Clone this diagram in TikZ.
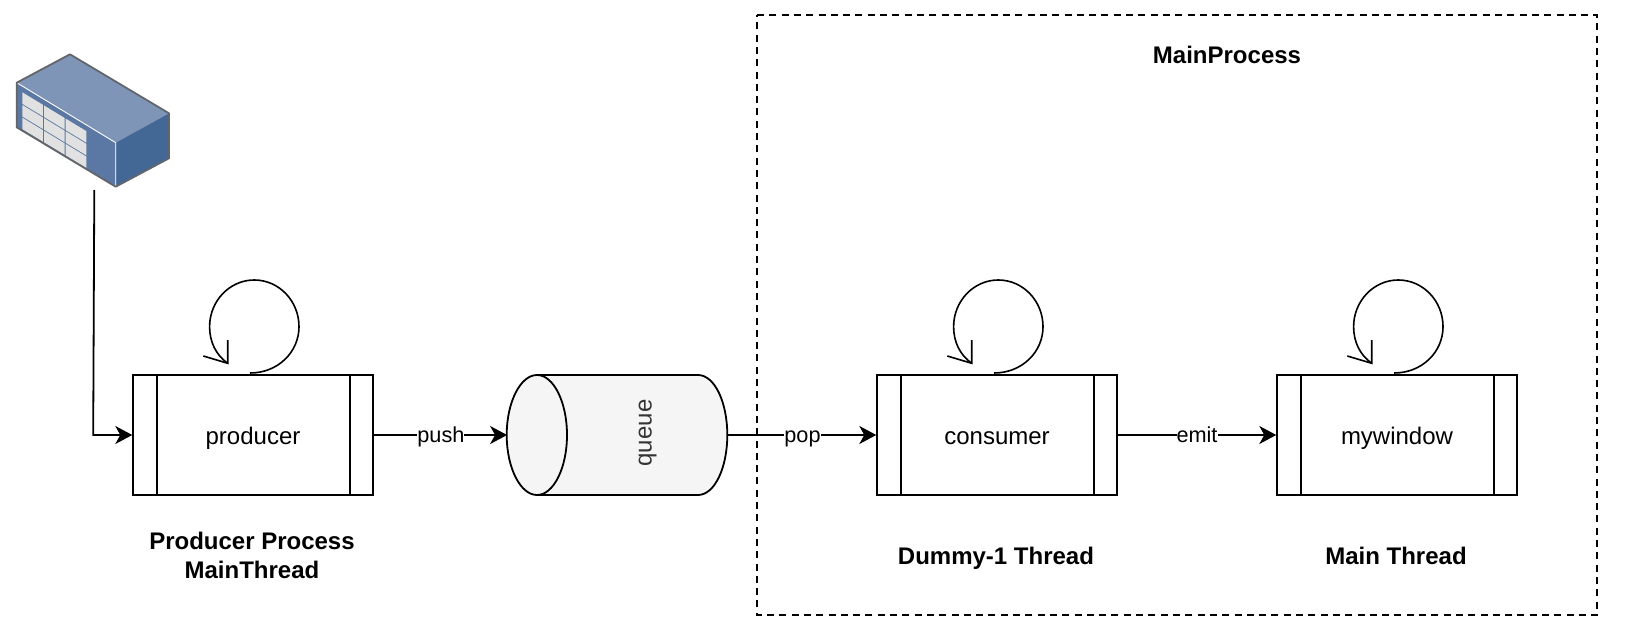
\documentclass[tikz,border=0pt]{standalone}
\usepackage{fontspec}
\setmainfont{Liberation Sans}
\usetikzlibrary{arrows.meta}
\definecolor{srvtop}{HTML}{7F95B8}
\definecolor{srvfront}{HTML}{5A78A3}
\definecolor{srvside}{HTML}{436896}
\definecolor{srvedge}{HTML}{62666B}
\definecolor{srvpanel}{HTML}{E1E1E1}
\definecolor{qfill}{HTML}{F5F5F5}
\definecolor{qtext}{HTML}{333333}
\tikzset{
  thread/.style={draw=black,line width=2bp,fill=white,minimum width=240.6bp,minimum height=120bp,inner sep=0pt,
    text height=18bp,text depth=0pt,font=\fontsize{24bp}{28bp}\selectfont},
  conn/.style={draw=black,line width=1.8bp,-{Stealth[length=17bp,width=18bp,inset=5bp]},shorten >=-0.6bp},
  edgelabel/.style={fill=white,inner sep=0pt,text height=19bp,text depth=5bp,font=\fontsize{21.7bp}{26bp}\selectfont},
  caption/.style={font=\bfseries\fontsize{24bp}{28.4bp}\selectfont,align=center,inner sep=0pt},
  loopline/.style={draw=black,line width=1.6bp,line join=miter},
  group/.style={draw=black,line width=2bp,dash pattern=on 7bp off 5.3bp},
  anchorbox/.style={minimum width=220.6bp,minimum height=120bp,inner sep=0pt}
}
\begin{document}
\begin{tikzpicture}[x=1bp,y=-1bp]
\useasboundingbox (0,0) rectangle (1628,638);
\fill[white] (0,0) rectangle (1628,638);
% server icon
\fill[srvtop] (16.7,82.7) -- (70,54.3) -- (169,113.3) -- (115.7,142.7) -- cycle;
\fill[srvfront] (16.7,82.7) -- (115.7,142.7) -- (115.7,186.7) -- (16.7,127.3) -- cycle;
\fill[srvside] (115.7,142.7) -- (169,113.3) -- (169,158.3) -- (115.7,186.7) -- cycle;
\foreach \c in {0,1,2}{\foreach \r in {0,1,2}{
  \pgfmathsetmacro{\xa}{(67+65*\c)/3}
  \pgfmathsetmacro{\ya}{30+(187+38*\r+39.4*\c)/3}
  \fill[srvpanel] (\xa,\ya) -- ++(20.6,12.5) -- ++(0,11.5) -- ++(-20.6,-12.5) -- cycle;
}}
\draw[white,line width=0.9bp] (16.7,82.7) -- (115.7,142.7) -- (115.7,186.7);
\draw[srvedge,line width=1.8bp,line join=round] (16.7,82.7) -- (70,54.3) -- (169,113.3) -- (169,158.3) -- (115.7,186.7) -- (16.7,127.3) -- cycle;
% group
\draw[group] (757,14.7) -- (1597,14.7) -- (1597,615) -- (757,615) -- cycle;
\node[caption,anchor=base] (mainproc) at (1227,64) {MainProcess};
% threads
\node[thread] (producer) at (253,435) {producer};
\node[thread] (consumer) at (997,435) {consumer};
\node[thread] (mywindow) at (1397,435) {mywindow};
\foreach \n in {producer,consumer,mywindow}{
  \draw[black,line width=2bp] ([xshift=24.8bp]\n.north west) -- ([xshift=24.8bp]\n.south west);
  \draw[black,line width=2bp] ([xshift=-24.8bp]\n.north east) -- ([xshift=-24.8bp]\n.south east);
}
% queue
\node[anchorbox] (queue) at (617,435) {};
\path[draw=black,fill=qfill,line width=1.8bp] (537,375) -- (698,375)
  .. controls (714.5,375) and (727.3,402) .. (727.3,435)
  .. controls (727.3,468) and (714.5,495) .. (698,495) -- (537,495)
  .. controls (520.5,495) and (506.7,468) .. (506.7,435)
  .. controls (506.7,402) and (520.5,375) .. (537,375) -- cycle;
\path[draw=black,line width=1.8bp] (537,375)
  .. controls (553.5,375) and (567,402) .. (567,435)
  .. controls (567,468) and (553.5,495) .. (537,495);
\node[rotate=90,anchor=base,inner sep=0pt,text=qtext,font=\fontsize{24bp}{28bp}\selectfont] (queuetext) at (651.7,433) {queue};
% connectors
\coordinate (serverout) at (94.3,190);
\coordinate (bend) at (93.2,435);
\draw[conn] (serverout) -- (bend) -- (producer.west);
\draw[conn] (producer.east) -- node[edgelabel,pos=0.504] (pushl) {push} (queue.west);
\draw[conn] (queue.east) -- node[edgelabel,pos=0.506] (popl) {pop} (consumer.west);
\draw[conn] (consumer.east) -- node[edgelabel,pos=0.5] (emitl) {emit} (mywindow.west);
% self loops
\foreach \n/\dx in {producer/0,consumer/744,mywindow/1144}{
  \begin{scope}[xshift=\dx bp]
  \coordinate (tip\n) at (227.7,363.3);
  \draw[loopline] (250,373) .. controls (278,373) and (299,352) .. (299,326.7)
    .. controls (299,301) and (279,280) .. (254.3,280)
    .. controls (229.6,280) and (209.6,301) .. (209.6,326.7)
    .. controls (209.6,342) and (216,355) .. (tip\n);
  \draw[loopline] (203.3,356) -- (tip\n) -- (227.7,340);
  \end{scope}
}
% captions
\node[caption] (cap1) at (252,555.5) {Producer Process\\MainThread};
\node[caption,anchor=base] (cap2) at (996,564.5) {Dummy-1 Thread};
\node[caption,anchor=base] (cap3) at (1396,564) {Main Thread};
\end{tikzpicture}
\end{document}
